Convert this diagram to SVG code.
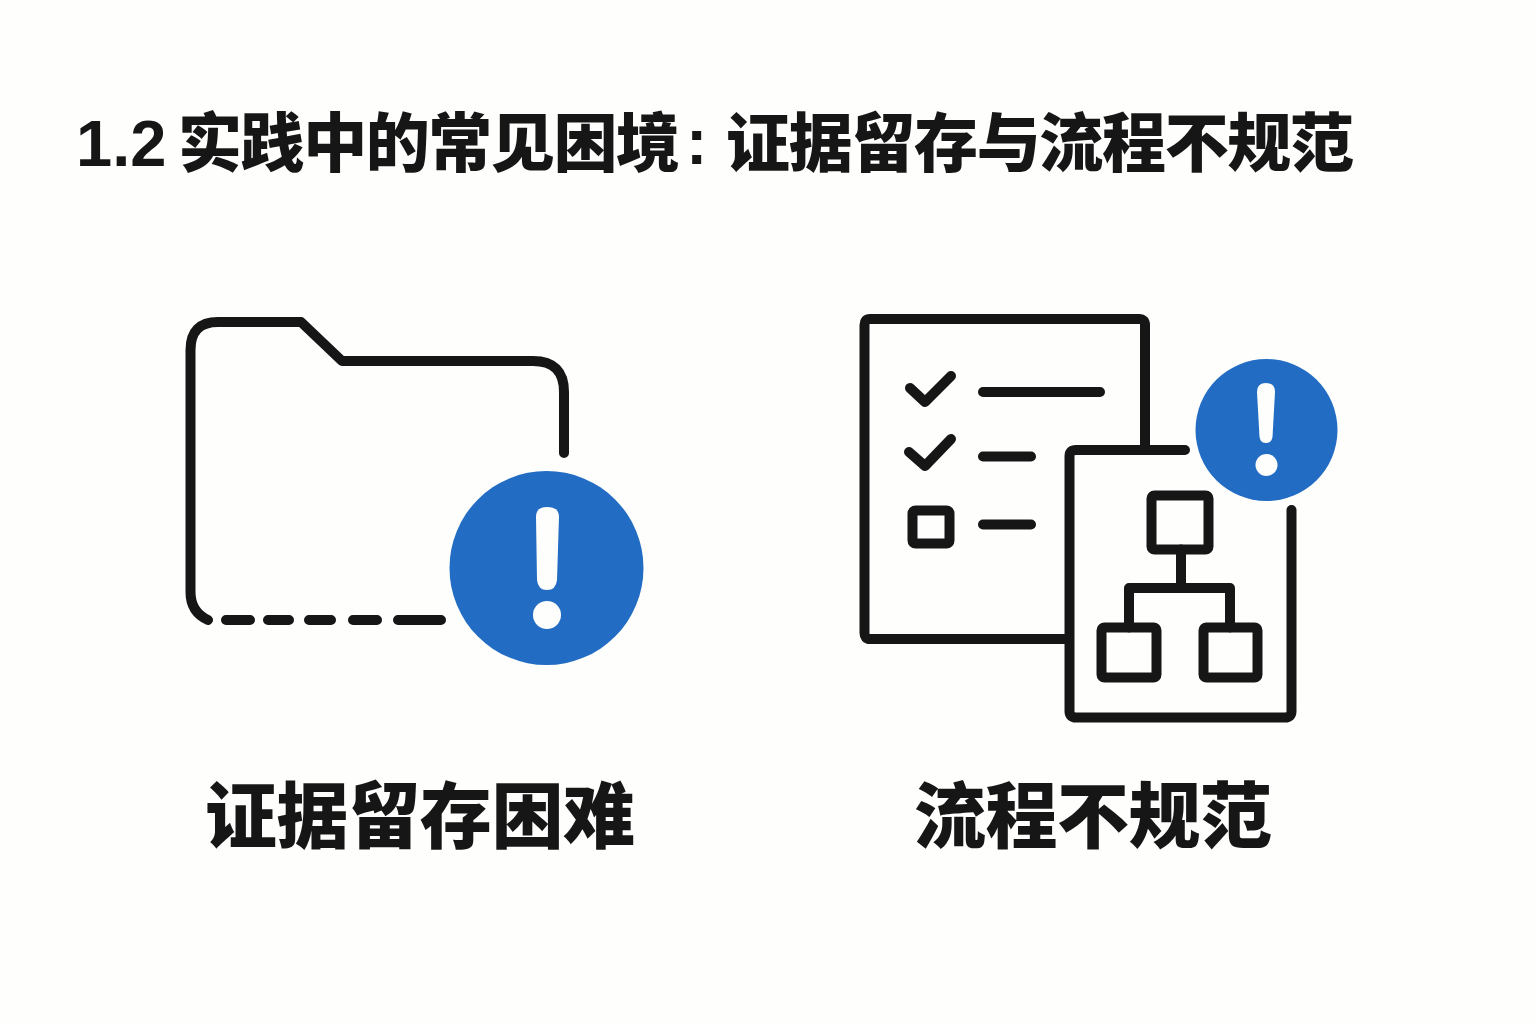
<svg xmlns="http://www.w3.org/2000/svg" width="1536" height="1024" viewBox="0 0 1536 1024">
<style>
.l{fill:none;stroke:#161616;stroke-width:10;stroke-linecap:round;stroke-linejoin:round}
.t{font-family:"Liberation Sans","Noto Sans CJK SC",sans-serif;font-weight:900;fill:#161616}
.b{fill:#226cc4}
.w{fill:#fefefc}
</style>
<rect width="1536" height="1024" fill="#fefefc"/>
<g id="title">
<text class="t" x="76" y="166" font-size="65">1.2</text>
<text class="t" x="178" y="166" font-size="64" textLength="502" lengthAdjust="spacing">实践中的常见困境</text>
<text class="t" x="686" y="164" font-size="64">:</text>
<text class="t" x="726" y="166" font-size="64" textLength="628" lengthAdjust="spacing">证据留存与流程不规范</text>
</g>
<g id="folder">
<path class="l" d="M564 453V392Q564 361 533 361H342L301 322H218Q190.500 322 190.500 350V592Q190.500 612 208 620"/>
<path class="l" d="M226 620H250M268 620H289M309 620H331M353 620H377M398 620H441"/>
<circle class="b" cx="546.500" cy="568" r="97"/>
<path class="w" d="M536 517Q536 507 547 507Q559 507 559 517L557 580Q556 590 547 590Q538 590 537 580Z"/>
<circle class="w" cx="547" cy="615" r="14"/>
</g>
<g id="checklist">
<path class="l" d="M1145 445V325Q1145 319 1139 319H870Q864.500 319 864.500 325V633Q864.500 639 870 639H1066"/>
<path class="l" d="M910 388L925 402L951 376M909 452L925 466L951 439M983 392H1100M983 456.500H1031M983 524.500H1031"/>
<rect class="l" x="912.500" y="510.500" width="37" height="33" rx="3"/>
</g>
<g id="flowchart">
<path class="l" d="M1185 450H1076Q1069.500 450 1069.500 456V711Q1069.500 717.500 1076 717.500H1285Q1291.500 717.500 1291.500 711V510"/>
<rect class="l" x="1151.500" y="495.500" width="57" height="54" rx="3"/>
<rect class="l" x="1101.500" y="627.500" width="55" height="50" rx="3"/>
<rect class="l" x="1203.500" y="627.500" width="54" height="50" rx="3"/>
<path class="l" d="M1181 549.500V588M1129 627.500V588H1230V627.500"/>
<circle class="b" cx="1266.500" cy="430" r="71"/>
<path class="w" d="M1257 392Q1257 383 1266 383Q1275 383 1275 392L1272.500 437Q1271.500 443 1266 443Q1260.500 443 1259.500 437Z"/>
<circle class="w" cx="1266.500" cy="465" r="11"/>
</g>
<text class="t" id="label1" x="205" y="842" font-size="72" textLength="430" lengthAdjust="spacing">证据留存困难</text>
<text class="t" id="label2" x="914" y="842" font-size="72" textLength="358" lengthAdjust="spacing">流程不规范</text>
</svg>
